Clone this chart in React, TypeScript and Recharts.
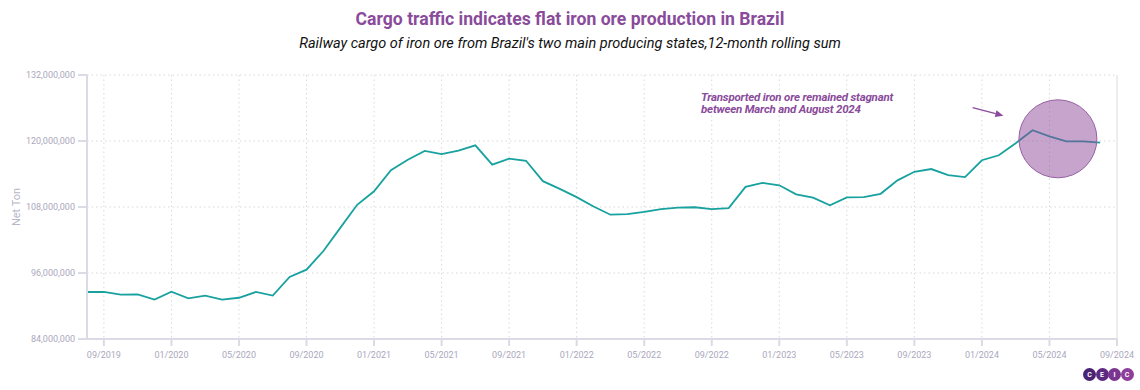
import React from 'react';
import {
  LineChart, Line, XAxis, YAxis, CartesianGrid, ReferenceDot, ReferenceLine, Label
} from 'recharts';

// monthly series starts at 08/2019
const startYear = 2019;
const startMonth = 8;

// 12-month rolling sum, million net tons (08/2019 .. 08/2024)
const netTonMillions = [
  92.55, 92.55, 92.07, 92.1, 91.16, 92.6, 91.4, 91.9, 91.16, 91.5,
  92.55, 91.9, 95.28, 96.6, 100.0, 104.2, 108.4, 110.85, 114.7, 116.6,
  118.2, 117.6, 118.25, 119.2, 115.7, 116.8, 116.4, 112.7, 111.3, 109.8,
  108.1, 106.6, 106.7, 107.1, 107.6, 107.9, 107.95, 107.6, 107.8, 111.65,
  112.4, 111.95, 110.3, 109.7, 108.3, 109.76, 109.8, 110.4, 112.85, 114.4,
  114.9, 113.8, 113.45, 116.5, 117.4, 119.6, 121.95, 120.85, 119.95, 119.95,
  119.7,
];

const xTickLabels = [
  '09/2019', '01/2020', '05/2020', '09/2020', '01/2021', '05/2021', '09/2021', '01/2022',
  '05/2022', '09/2022', '01/2023', '05/2023', '09/2023', '01/2024', '05/2024', '09/2024',
];

const yTicks = [84000000, 96000000, 108000000, 120000000, 132000000];

// highlighted stretch (Mar-Aug 2024) and the arrow pointing at it
const highlight = { x: 57.5, y: 120400000, r: 39 };
const arrowFrom = { x: 52.45, y: 126050000 };
const arrowTo = { x: 54.27, y: 124600000 };

const monthIndex = (label: string) => {
  const [m, y] = label.split('/').map(Number);
  return (y - startYear) * 12 + (m - startMonth);
};

const xTicks = xTickLabels.map(monthIndex);
const data = netTonMillions.map((v, i) => ({ idx: i, value: v * 1000000 }));

const purple = '#8a4b9b';
const tickColor = '#aaa8bd';
const axisColor = '#dcdae5';

const ArrowShape = (props: any) => {
  const { x1, y1, x2, y2 } = props;
  const ang = Math.atan2(y2 - y1, x2 - x1);
  const len = 8;
  const w = 3.5;
  const bx = x2 - len * Math.cos(ang);
  const by = y2 - len * Math.sin(ang);
  const p1 = `${bx + w * Math.sin(ang)},${by - w * Math.cos(ang)}`;
  const p2 = `${bx - w * Math.sin(ang)},${by + w * Math.cos(ang)}`;
  return (
    <g>
      <line x1={x1} y1={y1} x2={bx} y2={by} stroke={purple} strokeWidth={1.3} />
      <polygon points={`${x2},${y2} ${p1} ${p2}`} fill={purple} />
    </g>
  );
};

const logoColors = ['#4a2373', '#5d2a82', '#7a3591', '#8e3e9b'];
const logoLetters = ['C', 'E', 'I', 'C'];

const App = () => {
  return (
    <div style={{ position: 'absolute', left: 0, top: 0, width: 1140, height: 390, background: '#fff', fontFamily: 'Roboto' }}>
      <div style={{ position: 'absolute', top: 9, left: 0, width: 1140, textAlign: 'center', fontSize: 17.6, fontWeight: 700, color: purple, lineHeight: 'normal' }}>
        Cargo traffic indicates flat iron ore production in Brazil
      </div>
      <div style={{ position: 'absolute', top: 35, left: 0, width: 1140, textAlign: 'center', fontSize: 14.5, fontStyle: 'italic', color: '#111', lineHeight: 'normal' }}>
        Railway cargo of iron ore from Brazil's two main producing states,12-month rolling sum
      </div>

      <LineChart
        width={1140}
        height={390}
        data={data}
        margin={{ top: 75, right: 23, bottom: 21, left: 0 }}
      >
        <CartesianGrid strokeDasharray="1.5 3" stroke="#d9d9de" />
        <XAxis
          dataKey="idx"
          type="number"
          domain={[0, 61]}
          ticks={xTicks}
          tickFormatter={(v) => xTickLabels[xTicks.indexOf(v)]}
          height={30}
          tickSize={7}
          tickMargin={6}
          stroke={axisColor}
          strokeWidth={2}
          tick={{ fontSize: 9, fill: tickColor }}
        />
        <YAxis
          domain={[84000000, 132000000]}
          ticks={yTicks}
          width={87}
          tickSize={9}
          tickMargin={3}
          stroke={axisColor}
          strokeWidth={2}
          tickFormatter={(v) => v.toLocaleString('en-US')}
          tick={{ fontSize: 9, fill: tickColor }}
        >
          <Label
            value="Net Ton"
            angle={-90}
            position="insideLeft"
            offset={16}
            style={{ textAnchor: 'middle', fontSize: 11, fill: '#b9b6c9' }}
          />
        </YAxis>
        <ReferenceLine x={61} stroke="#ececf1" strokeWidth={2} />
        <Line
          type="linear"
          dataKey="value"
          stroke="#17a19f"
          strokeWidth={1.8}
          dot={false}
          isAnimationActive={false}
        />
        <ReferenceDot
          x={highlight.x}
          y={highlight.y}
          r={highlight.r}
          fill="#8e4a9a"
          fillOpacity={0.5}
          stroke="#9560a3"
          strokeWidth={1}
        />
        <ReferenceLine
          segment={[arrowFrom, arrowTo]}
          shape={ArrowShape}
        />
      </LineChart>

      <div style={{ position: 'absolute', left: 701, top: 91, fontSize: 11.5, letterSpacing: -0.2, fontWeight: 700, fontStyle: 'italic', color: purple, lineHeight: '12px' }}>
        Transported iron ore remained stagnant<br />between March and August 2024
      </div>

      <div style={{ position: 'absolute', left: 1083, top: 368, display: 'flex' }}>
        {logoLetters.map((c, i) => (
          <div
            key={i}
            style={{
              width: 13, height: 13, borderRadius: '50%', background: logoColors[i],
              marginLeft: i === 0 ? 0 : -0.5, color: '#fff', fontSize: 7, fontWeight: 700,
              display: 'flex', alignItems: 'center', justifyContent: 'center',
            }}
          >
            {c}
          </div>
        ))}
      </div>
    </div>
  );
};

export default App;
